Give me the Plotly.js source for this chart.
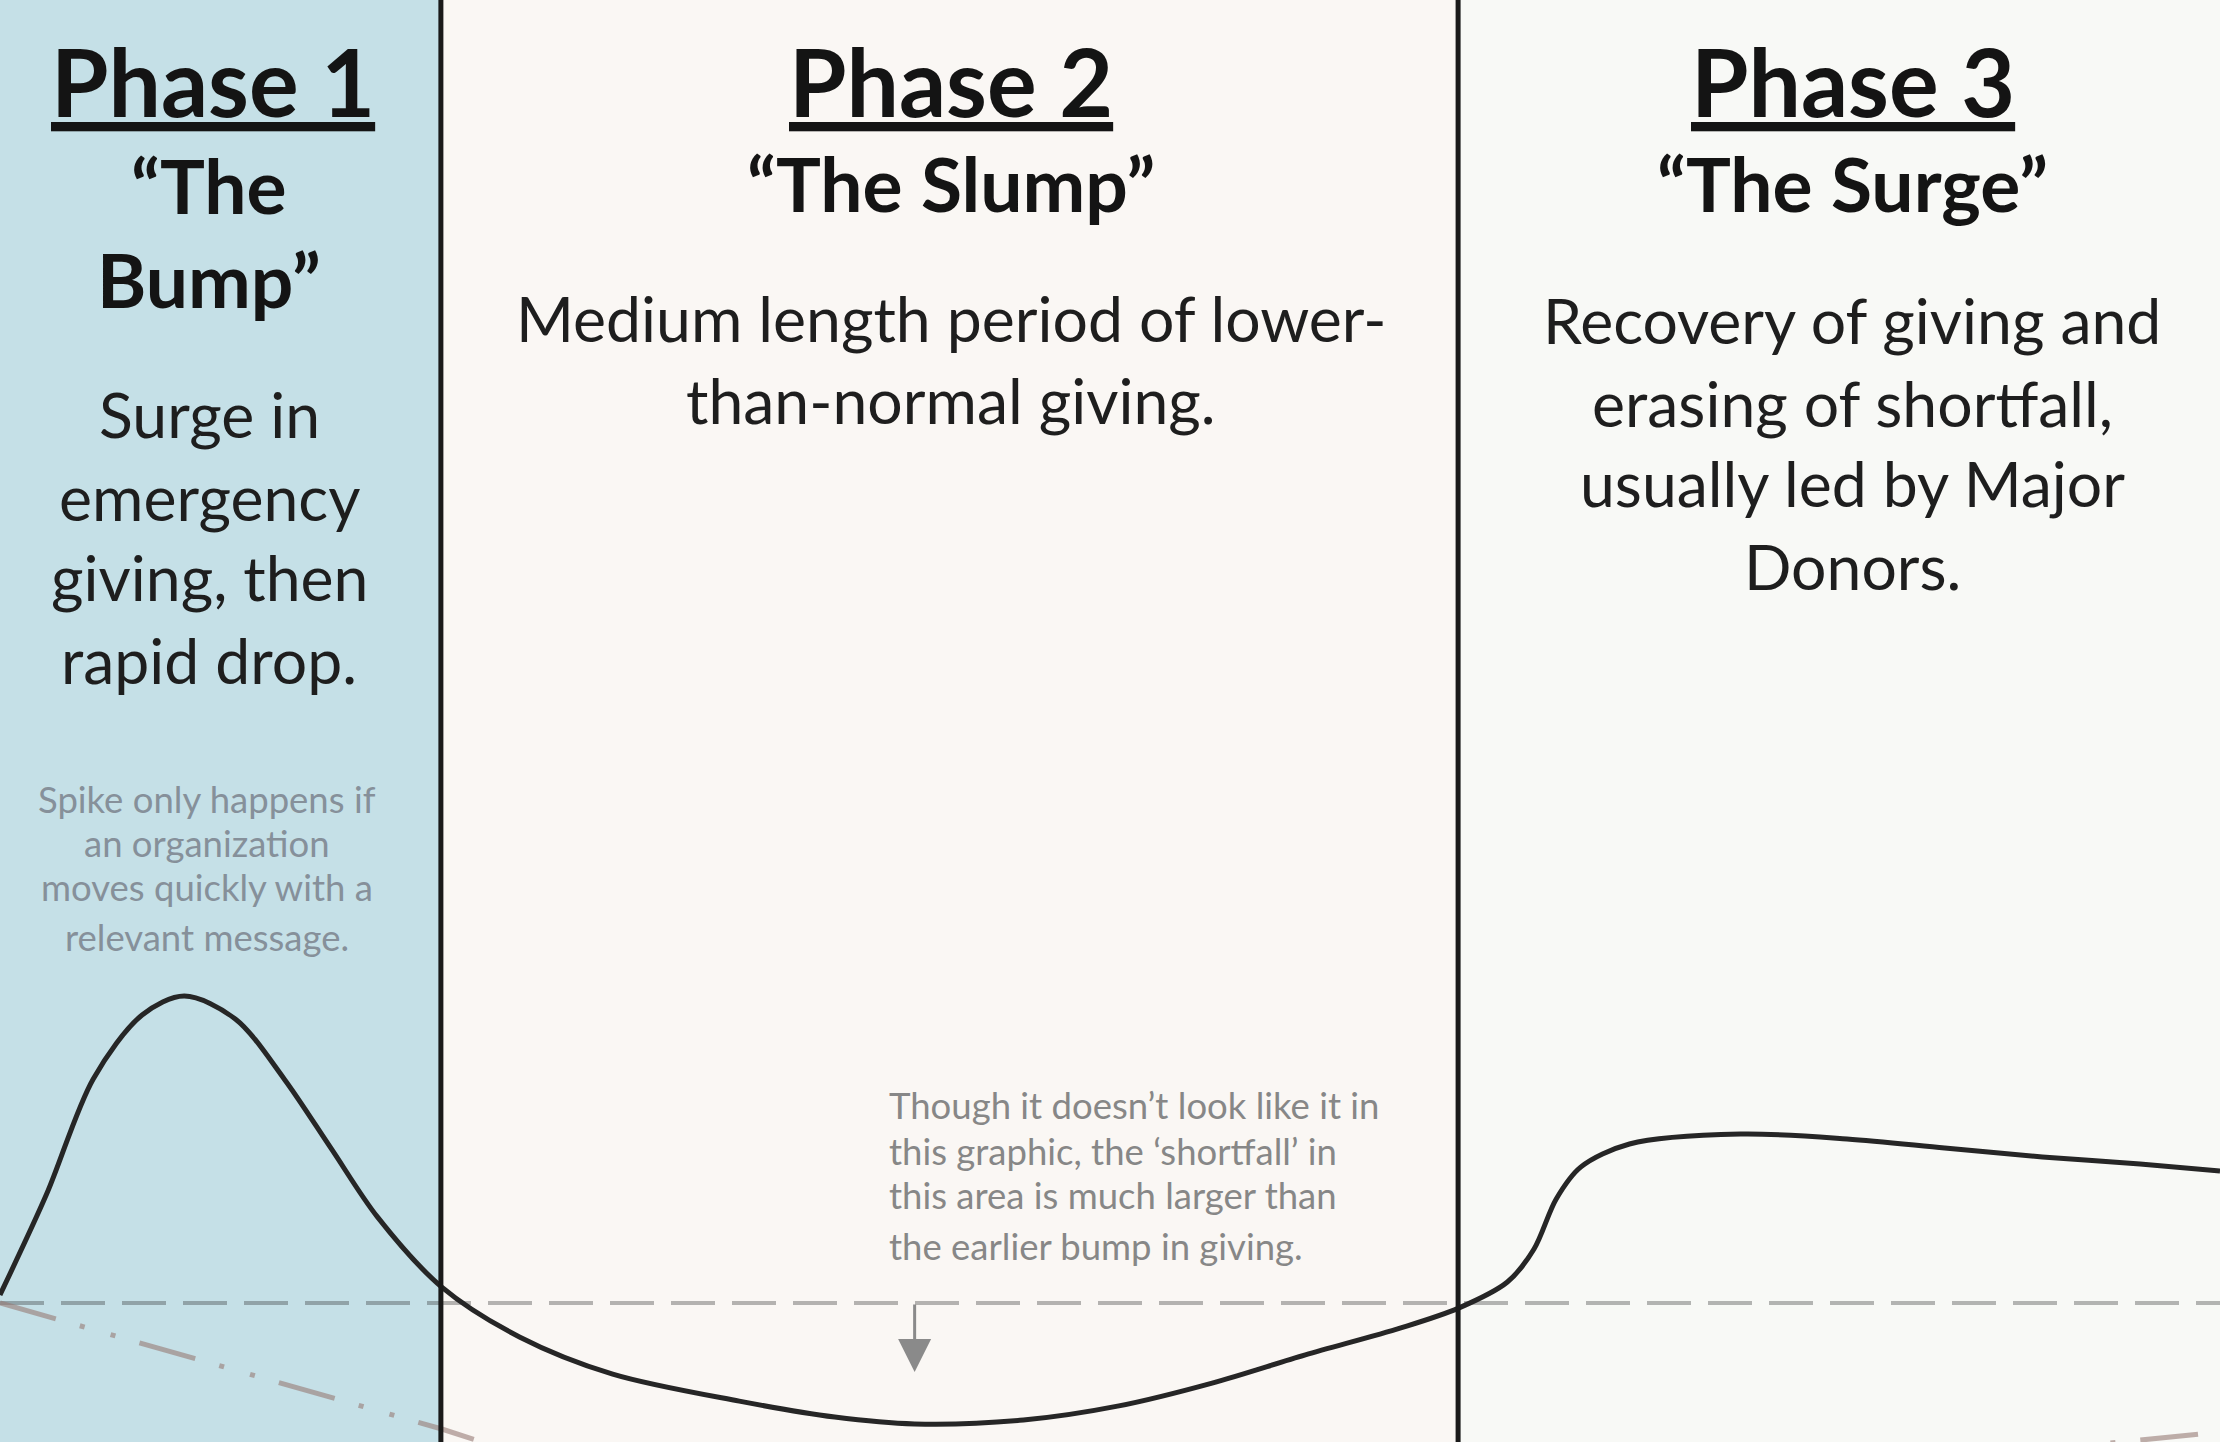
<!DOCTYPE html>
<html>
<head>
<meta charset="utf-8">
<script src="https://cdn.plot.ly/plotly-3.0.1.min.js"></script>
<style>
  html, body { margin: 0; padding: 0; overflow: hidden; background: #ffffff; }
  #chart { width: 2220px; height: 1442px; }
</style>
</head>
<body>
<div id="chart"></div>
<script>
// ---------- DATA ----------
// x: time (0-100 scale), y: giving relative to normal (0 = normal level)
const timeSteps = [0, 2.1, 4.2, 6.4, 8.3, 10.6, 12.8, 14.9, 17.0, 19.9, 23.4, 27.6, 33.3, 37.6, 41.2, 46.1, 50.4, 54.6, 58.8, 63.1, 65.7, 67.9, 69.1, 70.1, 71.2, 73.4, 78.4, 83.2, 87.6, 92.0, 96.4, 100];
const givingLevel = [2.7, 36.3, 74.7, 96, 102.3, 94.7, 74.7, 51.7, 28.7, 5.3, -11.3, -23.7, -32.7, -38, -40.3, -39, -34.3, -26.7, -17.3, -8.3, -1.7, 7, 18, 34.7, 45.3, 53, 56.3, 54.7, 51.7, 48.7, 46.3, 44];

const normalX = [0, 100];
const normalY = [0, 0];

const trendX = [0, 19.9, 30, 60, 88, 100];
const trendY = [0, -42, -66, -76, -52, -43];

const phaseBounds = [0, 19.86, 65.68, 100];
const phaseColors = ['#c5e0e7', '#faf7f4', '#f8f9f6'];

const phaseTitles = ['Phase 1', 'Phase 2', 'Phase 3'];
const phaseNames = [['“The', 'Bump”'], ['“The Slump”'], ['“The Surge”']];
const phaseDescs = [
  ['Surge in', 'emergency', 'giving, then', 'rapid drop.'],
  ['Medium length period of lower-', 'than-normal giving.'],
  ['Recovery of giving and', 'erasing of shortfall,', 'usually led by Major', 'Donors.']
];
const noteBump = ['Spike only happens if', 'an organization', 'moves quickly with a', 'relevant message.'];
const noteSlump = ['Though it doesn’t look like it in', 'this graphic, the ‘shortfall’ in', 'this area is much larger than', 'the earlier bump in giving.'];
const arrowAt = 41.2;     // time where the shortfall arrow sits
const arrowTip = -23;     // giving level at the arrow tip

// ---------- LAYOUT HELPERS ----------
const W = 2220, H = 1442;
const px = v => v / W;          // horizontal pixel -> paper
const py = v => 1 - v / H;      // vertical pixel -> paper
const FONT = 'Lato, "Open Sans", "Noto Sans", sans-serif';

const titleCx = [213, 951, 1853];
const textCx = [209, 951, 1852];
const titleY = 81;
const nameYs = [[185, 279], [183], [183]];
const descYs = [[413, 496, 576, 659], [317, 399], [319, 402, 482, 565]];
const bumpNoteYs = [799, 843, 887, 937];
const slumpNoteYs = [1105, 1151, 1195, 1246];

const annotations = [];
phaseTitles.forEach((t, i) => {
  annotations.push({
    text: t, xref: 'paper', yref: 'paper', x: px(titleCx[i]), y: py(titleY),
    xanchor: 'center', yanchor: 'middle', showarrow: false,
    font: { family: FONT, size: 93, color: '#141414', weight: 700, lineposition: 'under' }
  });
  phaseNames[i].forEach((n, j) => {
    annotations.push({
      text: n, xref: 'paper', yref: 'paper', x: px(textCx[i]), y: py(nameYs[i][j]),
      xanchor: 'center', yanchor: 'middle', showarrow: false,
      font: { family: FONT, size: 75, color: '#141414', weight: 700 }
    });
  });
  phaseDescs[i].forEach((d, j) => {
    annotations.push({
      text: d, xref: 'paper', yref: 'paper', x: px(textCx[i]), y: py(descYs[i][j]),
      xanchor: 'center', yanchor: 'middle', showarrow: false,
      font: { family: FONT, size: 62.5, color: '#1e1e1e' }
    });
  });
});
noteBump.forEach((n, j) => {
  annotations.push({
    text: n, xref: 'paper', yref: 'paper', x: px(207), y: py(bumpNoteYs[j]),
    xanchor: 'center', yanchor: 'middle', showarrow: false,
    font: { family: FONT, size: 36.5, color: '#86909a' }
  });
});
noteSlump.forEach((n, j) => {
  annotations.push({
    text: n, xref: 'paper', yref: 'paper', x: px(887), y: py(slumpNoteYs[j]),
    xanchor: 'left', yanchor: 'middle', showarrow: false,
    font: { family: FONT, size: 36.5, color: '#878787' }
  });
});
annotations.push({
  text: '', xref: 'x', yref: 'y', x: arrowAt, y: arrowTip,
  axref: 'x', ayref: 'y', ax: arrowAt, ay: normalY[0],
  showarrow: true, arrowhead: 2, arrowsize: 2.2, arrowwidth: 3, arrowcolor: '#8a8a8a', standoff: 0
});

const shapes = [];
for (let i = 0; i < 3; i++) {
  shapes.push({
    type: 'rect', layer: 'below', xref: 'x', yref: 'paper',
    x0: phaseBounds[i], x1: phaseBounds[i + 1], y0: 0, y1: 1,
    fillcolor: phaseColors[i], line: { width: 0 }
  });
}
[phaseBounds[1], phaseBounds[2]].forEach(b => {
  shapes.push({
    type: 'line', layer: 'above', xref: 'x', yref: 'paper',
    x0: b, x1: b, y0: 0, y1: 1, line: { color: '#1a1a1a', width: 5 }
  });
});

const traces = [
  {
    x: normalX, y: normalY, mode: 'lines', hoverinfo: 'skip',
    line: { color: 'rgba(40,40,40,0.33)', width: 4, dash: '44px,17px' }
  },
  {
    x: trendX, y: trendY, mode: 'lines', hoverinfo: 'skip',
    line: { color: 'rgba(150,122,116,0.6)', width: 5, dash: '58px,25px,5px,27px,5px,25px' }
  },
  {
    x: timeSteps, y: givingLevel, mode: 'lines', hoverinfo: 'skip',
    line: { color: '#262626', width: 5, shape: 'spline', smoothing: 0.9 }
  }
];

const layout = {
  width: W, height: H,
  margin: { l: 0, r: 0, t: 0, b: 0, pad: 0 },
  paper_bgcolor: '#ffffff', plot_bgcolor: 'rgba(0,0,0,0)',
  showlegend: false,
  xaxis: { range: [0, 100], visible: false, fixedrange: true },
  yaxis: { range: [-46.33, 434.33], visible: false, fixedrange: true },
  shapes: shapes,
  annotations: annotations
};

Plotly.newPlot('chart', traces, layout, { displayModeBar: false, staticPlot: true });
</script>
</body>
</html>
